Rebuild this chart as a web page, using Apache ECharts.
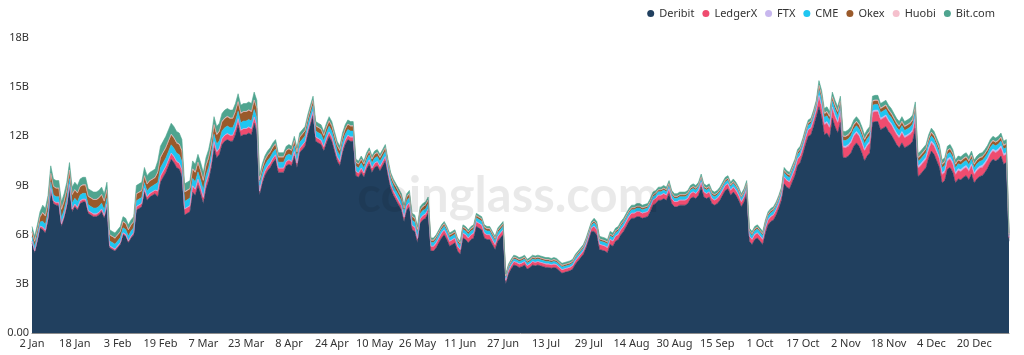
<!DOCTYPE html>
<html>
<head>
<meta charset="utf-8">
<script src="https://cdn.jsdelivr.net/npm/echarts@6/dist/echarts.min.js"></script>
<style>
html,body{margin:0;padding:0;background:#fff;}
#chart{width:1024px;height:355px;}
</style>
</head>
<body>
<div id="chart"></div>
<script>
// Daily open interest (billions USD), 2 Jan 2021 .. 2 Jan 2022 (366 days)
const startDate = [2021, 0, 2];
const monthNames = ['Jan','Feb','Mar','Apr','May','Jun','Jul','Aug','Sep','Oct','Nov','Dec'];
const seriesNames = ['Deribit','LedgerX','FTX','CME','Okex','Huobi','Bit.com'];
const yTicks = [0, 3, 6, 9, 12, 15, 18];

const deribit = [
5.5,4.9,5.6,6.4,6.3,6.1,6.9,8.7,7.9,7.8,
7.8,6.5,7.0,7.7,8.9,7.4,7.7,7.5,7.9,8.0,
8.0,7.3,7.2,7.1,7.1,7.2,7.4,7.0,7.7,5.2,
5.1,5.0,5.2,5.4,6.0,5.9,5.5,5.8,6.0,7.5,
7.6,7.7,8.6,8.1,8.3,8.4,8.5,8.3,9.2,9.5,
9.8,10.2,10.6,10.4,10.1,10.0,9.6,7.2,7.3,7.4,
8.6,8.4,9.0,8.5,7.9,8.8,9.3,10.1,11.3,10.7,
10.9,11.5,11.7,11.8,11.7,11.7,12.1,12.7,12.0,12.1,
12.1,12.2,12.1,12.8,12.3,8.4,9.1,9.6,9.9,10.1,
10.4,10.6,9.8,9.8,9.8,10.2,10.3,10.2,10.8,10.1,
11.0,11.2,11.4,12.1,12.7,13.25,11.7,11.6,11.5,11.1,
11.6,12.0,11.7,11.1,10.5,10.2,11.0,11.5,11.8,11.7,
11.7,9.6,9.5,9.8,9.5,10.0,10.3,9.8,10.1,10.2,
9.9,10.2,10.5,9.6,8.8,8.4,8.1,7.8,7.5,6.8,
7.5,7.7,6.3,6.2,5.5,6.7,6.9,7.0,7.3,5.0,
5.0,5.2,5.5,5.8,6.0,5.7,5.3,5.4,5.5,5.0,
4.8,5.8,5.7,5.5,5.7,5.8,6.5,6.4,6.3,5.8,
5.7,5.7,5.4,5.1,5.6,5.8,6.0,3.0,3.6,3.9,
4.15,4.1,4.0,4.05,4.15,3.9,4.0,4.15,4.1,4.15,
4.1,4.05,4.0,4.0,3.95,4.0,3.95,3.8,3.65,3.7,
3.75,3.8,3.9,4.2,4.4,4.6,4.8,5.2,5.7,6.2,
6.2,6.0,5.1,5.05,5.0,4.9,5.4,5.3,5.6,5.7,
6.0,6.2,6.5,6.8,7.0,7.0,7.1,7.1,7.0,7.05,
7.1,7.4,7.8,7.9,8.1,8.1,8.2,8.1,8.5,7.9,
7.7,7.7,7.8,7.8,7.8,7.9,8.2,8.3,8.2,8.4,
8.9,8.3,8.2,8.3,7.9,7.8,7.9,8.1,8.4,8.7,
8.8,8.4,8.6,8.4,8.1,7.7,8.0,8.5,5.6,5.4,
5.7,5.8,5.6,5.4,6.1,6.6,6.8,6.9,7.2,7.6,
8.1,9.1,8.9,8.8,9.2,9.6,10.2,10.4,10.9,11.5,
12.0,12.1,12.6,13.2,13.8,13.2,12.1,12.2,11.9,13.1,
12.6,12.2,12.85,10.7,10.7,10.8,11.0,11.4,11.6,11.4,
11.0,10.5,10.8,11.0,12.85,12.9,12.9,12.4,12.5,12.6,
12.3,12.1,11.8,11.5,11.3,11.6,11.3,11.4,11.5,11.7,
12.5,9.55,9.7,9.9,10.1,10.7,11.1,10.9,10.5,10.1,
9.15,9.3,10.0,10.1,9.8,9.15,9.4,9.35,9.5,9.6,
9.35,9.7,9.15,9.4,9.55,9.6,9.8,10.05,10.4,10.6,
10.5,10.6,10.8,10.3,10.4,5.6
];

const ledgerx = [
.1,.1,.1,.1,.15,.15,.15,.15,.15,.15,
.15,.15,.15,.15,.15,.15,.15,.15,.15,.15,
.15,.15,.15,.15,.15,.15,.15,.15,.15,.1,
.1,.1,.1,.1,.1,.1,.1,.1,.1,.2,
.2,.2,.2,.2,.2,.2,.2,.35,.35,.35,
.35,.35,.35,.35,.35,.35,.35,.35,.35,.35,
.35,.35,.35,.35,.35,.35,.35,.35,.35,.35,
.35,.35,.35,.35,.35,.35,.35,.35,.35,.35,
.35,.35,.35,.35,.35,.25,.25,.25,.25,.25,
.25,.25,.25,.25,.25,.25,.25,.25,.25,.25,
.25,.25,.25,.25,.25,.25,.25,.25,.25,.25,
.25,.25,.25,.25,.25,.25,.25,.25,.25,.25,
.25,.25,.25,.25,.25,.25,.25,.25,.25,.25,
.25,.25,.25,.25,.25,.25,.25,.25,.25,.25,
.25,.25,.25,.25,.25,.25,.25,.25,.25,.28,
.28,.28,.28,.28,.28,.28,.28,.28,.28,.28,
.28,.28,.28,.28,.28,.28,.28,.28,.28,.28,
.28,.28,.28,.28,.28,.28,.28,.2,.2,.2,
.2,.2,.2,.2,.2,.2,.2,.2,.2,.2,
.2,.2,.2,.2,.2,.2,.2,.2,.2,.2,
.2,.2,.2,.2,.2,.2,.2,.2,.2,.2,
.3,.3,.3,.3,.3,.3,.3,.3,.3,.3,
.3,.3,.3,.3,.3,.3,.3,.3,.3,.3,
.3,.3,.3,.3,.3,.3,.3,.3,.3,.3,
.3,.3,.3,.3,.3,.3,.3,.3,.3,.3,
.3,.3,.3,.3,.3,.3,.3,.3,.3,.3,
.3,.3,.3,.3,.3,.3,.3,.3,.3,.3,
.3,.3,.3,.3,.3,.3,.3,.3,.3,.3,
.3,.4,.4,.4,.4,.4,.4,.4,.4,.4,
.4,.4,.4,.4,.6,.6,.6,.6,.6,.6,
.6,.6,.6,.6,.6,.6,.6,.6,.6,.6,
.6,.6,.6,.6,.6,.6,.6,.6,.6,.6,
.6,.6,.6,.6,.6,.6,.6,.6,.6,.6,
.6,.5,.5,.5,.5,.5,.5,.5,.5,.5,
.5,.5,.5,.5,.5,.5,.5,.5,.5,.5,
.5,.5,.5,.5,.5,.5,.5,.5,.5,.5,
.5,.5,.5,.5,.5,.2
];

const ftx = [
.02,.02,.02,.02,.02,.02,.02,.02,.02,.02,
.02,.02,.02,.02,.02,.02,.02,.02,.02,.02,
.02,.02,.02,.02,.02,.02,.02,.02,.02,.02,
.02,.02,.02,.02,.02,.02,.02,.02,.02,.02,
.02,.02,.02,.02,.02,.02,.02,.03,.03,.03,
.03,.03,.03,.03,.03,.03,.03,.03,.03,.03,
.03,.03,.03,.03,.03,.03,.03,.03,.03,.03,
.03,.03,.03,.03,.03,.03,.03,.03,.03,.03,
.03,.03,.03,.03,.03,.02,.02,.02,.02,.02,
.02,.02,.02,.02,.02,.02,.02,.02,.02,.02,
.02,.02,.02,.02,.02,.02,.02,.02,.02,.02,
.02,.02,.02,.02,.02,.02,.02,.02,.02,.02,
.02,.02,.02,.02,.02,.02,.02,.02,.02,.02,
.02,.02,.02,.02,.02,.02,.02,.02,.02,.02,
.02,.02,.02,.02,.02,.02,.02,.02,.02,.02,
.02,.02,.02,.02,.02,.02,.02,.02,.02,.02,
.02,.02,.02,.02,.02,.02,.02,.02,.02,.02,
.02,.02,.02,.02,.02,.02,.02,.02,.02,.02,
.02,.02,.02,.02,.02,.02,.02,.02,.02,.02,
.02,.02,.02,.02,.02,.02,.02,.02,.02,.02,
.02,.02,.02,.02,.02,.02,.02,.02,.02,.02,
.02,.02,.02,.02,.02,.02,.02,.02,.02,.02,
.02,.02,.02,.02,.02,.02,.02,.02,.02,.02,
.02,.02,.02,.02,.02,.02,.02,.02,.02,.02,
.02,.02,.02,.02,.02,.02,.02,.02,.02,.02,
.02,.02,.02,.02,.02,.02,.02,.02,.02,.02,
.02,.02,.02,.02,.02,.02,.02,.02,.02,.02,
.02,.02,.02,.02,.02,.02,.02,.02,.02,.02,
.02,.03,.03,.03,.03,.03,.03,.03,.03,.03,
.03,.03,.03,.03,.1,.1,.1,.1,.1,.1,
.1,.1,.1,.1,.1,.1,.1,.1,.1,.1,
.1,.1,.1,.1,.1,.1,.1,.1,.1,.1,
.1,.1,.1,.1,.1,.1,.1,.1,.1,.1,
.1,.12,.12,.12,.12,.12,.12,.12,.12,.12,
.12,.12,.12,.12,.12,.12,.12,.12,.12,.12,
.12,.12,.12,.12,.12,.12,.12,.12,.12,.12,
.12,.12,.12,.12,.12,.05
];

const cme = [
.25,.25,.25,.25,.35,.35,.35,.35,.35,.35,
.35,.35,.35,.35,.35,.35,.35,.35,.35,.35,
.35,.35,.35,.35,.35,.35,.35,.35,.35,.3,
.3,.3,.3,.3,.3,.3,.3,.3,.3,.35,
.35,.35,.35,.35,.35,.35,.35,.5,.5,.5,
.5,.5,.5,.5,.5,.5,.5,.45,.45,.45,
.45,.45,.45,.45,.45,.45,.45,.45,.45,.45,
.45,.45,.45,.45,.45,.45,.45,.45,.45,.45,
.45,.45,.45,.45,.45,.35,.35,.35,.35,.35,
.35,.35,.35,.35,.35,.35,.35,.35,.35,.35,
.35,.35,.35,.35,.35,.35,.35,.35,.35,.35,
.35,.35,.35,.35,.35,.35,.35,.35,.35,.35,
.35,.3,.3,.3,.3,.3,.3,.3,.3,.3,
.3,.3,.3,.3,.3,.3,.3,.3,.3,.3,
.3,.3,.3,.3,.3,.3,.3,.3,.3,.22,
.22,.22,.22,.22,.22,.22,.22,.22,.22,.22,
.22,.22,.22,.22,.22,.22,.22,.22,.22,.22,
.22,.22,.22,.22,.22,.22,.22,.15,.15,.15,
.15,.15,.15,.15,.15,.15,.15,.15,.15,.15,
.15,.15,.15,.15,.15,.15,.15,.15,.15,.15,
.15,.15,.15,.15,.15,.15,.15,.15,.15,.15,
.2,.2,.2,.2,.2,.2,.2,.2,.2,.2,
.2,.2,.2,.2,.2,.2,.2,.2,.2,.2,
.2,.2,.2,.2,.2,.2,.2,.2,.2,.2,
.2,.2,.2,.2,.2,.2,.2,.2,.2,.2,
.2,.2,.2,.2,.2,.2,.2,.2,.2,.2,
.2,.2,.2,.2,.2,.2,.2,.2,.22,.22,
.22,.22,.22,.22,.22,.22,.22,.22,.22,.22,
.22,.25,.25,.25,.25,.25,.25,.25,.25,.25,
.25,.25,.25,.25,.35,.35,.35,.35,.35,.35,
.35,.35,.35,.35,.35,.35,.35,.35,.35,.35,
.35,.35,.35,.35,.35,.35,.35,.35,.35,.35,
.35,.35,.35,.35,.35,.35,.35,.35,.35,.35,
.35,.3,.3,.3,.3,.3,.3,.3,.3,.3,
.3,.3,.3,.3,.3,.3,.3,.3,.3,.3,
.3,.3,.3,.3,.3,.3,.3,.3,.3,.3,
.3,.3,.3,.3,.3,.1
];

const okex = [
.3,.3,.3,.3,.5,.5,.5,.5,.5,.5,
.5,.5,.5,.5,.5,.5,.5,.5,.5,.5,
.5,.5,.5,.5,.5,.5,.5,.5,.5,.35,
.35,.35,.35,.35,.35,.35,.35,.35,.35,.4,
.4,.4,.4,.4,.4,.4,.4,.6,.6,.6,
.6,.6,.6,.6,.6,.6,.6,.55,.55,.55,
.55,.55,.55,.55,.55,.55,.55,.55,.55,.55,
.55,.55,.55,.55,.55,.55,.55,.55,.55,.55,
.55,.55,.55,.55,.55,.3,.3,.3,.3,.3,
.3,.3,.3,.3,.3,.3,.3,.3,.3,.3,
.3,.3,.3,.3,.3,.3,.3,.3,.3,.3,
.3,.3,.3,.3,.3,.3,.3,.3,.3,.3,
.3,.22,.22,.22,.22,.22,.22,.22,.22,.22,
.22,.22,.22,.22,.22,.22,.22,.22,.22,.22,
.22,.22,.22,.22,.22,.22,.22,.22,.22,.13,
.13,.13,.13,.13,.13,.13,.13,.13,.13,.13,
.13,.13,.13,.13,.13,.13,.13,.13,.13,.13,
.13,.13,.13,.13,.13,.13,.13,.09,.09,.09,
.09,.09,.09,.09,.09,.09,.09,.09,.09,.09,
.09,.09,.09,.09,.09,.09,.09,.09,.09,.09,
.09,.09,.09,.09,.09,.09,.09,.09,.09,.09,
.1,.1,.1,.1,.1,.1,.1,.1,.1,.1,
.1,.1,.1,.1,.1,.1,.1,.1,.1,.1,
.1,.1,.1,.1,.1,.1,.1,.1,.1,.1,
.1,.1,.1,.1,.1,.1,.1,.1,.1,.1,
.1,.1,.1,.1,.1,.1,.1,.1,.1,.1,
.1,.1,.1,.1,.1,.1,.1,.1,.1,.1,
.1,.1,.1,.1,.1,.1,.1,.1,.1,.1,
.1,.13,.13,.13,.13,.13,.13,.13,.13,.13,
.13,.13,.13,.13,.22,.22,.22,.22,.22,.22,
.22,.22,.22,.22,.22,.22,.22,.22,.22,.22,
.22,.22,.22,.22,.22,.22,.22,.22,.22,.22,
.22,.22,.22,.22,.22,.22,.22,.22,.22,.22,
.22,.2,.2,.2,.2,.2,.2,.2,.2,.2,
.2,.2,.2,.2,.2,.2,.2,.2,.2,.2,
.2,.2,.2,.2,.2,.2,.2,.2,.2,.2,
.2,.2,.2,.2,.2,.05
];

const huobi = [
.03,.03,.03,.03,.03,.03,.03,.03,.03,.03,
.03,.03,.03,.03,.03,.03,.03,.03,.03,.03,
.03,.03,.03,.03,.03,.03,.03,.03,.03,.03,
.03,.03,.03,.03,.03,.03,.03,.03,.03,.03,
.03,.03,.03,.03,.03,.03,.03,.05,.05,.05,
.05,.05,.05,.05,.05,.05,.05,.04,.04,.04,
.04,.04,.04,.04,.04,.04,.04,.04,.04,.04,
.04,.04,.04,.04,.04,.04,.04,.04,.04,.04,
.04,.04,.04,.04,.04,.03,.03,.03,.03,.03,
.03,.03,.03,.03,.03,.03,.03,.03,.03,.03,
.03,.03,.03,.03,.03,.03,.03,.03,.03,.03,
.03,.03,.03,.03,.03,.03,.03,.03,.03,.03,
.03,.03,.03,.03,.03,.03,.03,.03,.03,.03,
.03,.03,.03,.03,.03,.03,.03,.03,.03,.03,
.03,.03,.03,.03,.03,.03,.03,.03,.03,.02,
.02,.02,.02,.02,.02,.02,.02,.02,.02,.02,
.02,.02,.02,.02,.02,.02,.02,.02,.02,.02,
.02,.02,.02,.02,.02,.02,.02,.02,.02,.02,
.02,.02,.02,.02,.02,.02,.02,.02,.02,.02,
.02,.02,.02,.02,.02,.02,.02,.02,.02,.02,
.02,.02,.02,.02,.02,.02,.02,.02,.02,.02,
.02,.02,.02,.02,.02,.02,.02,.02,.02,.02,
.02,.02,.02,.02,.02,.02,.02,.02,.02,.02,
.02,.02,.02,.02,.02,.02,.02,.02,.02,.02,
.02,.02,.02,.02,.02,.02,.02,.02,.02,.02,
.02,.02,.02,.02,.02,.02,.02,.02,.02,.02,
.02,.02,.02,.02,.02,.02,.02,.02,.02,.02,
.02,.02,.02,.02,.02,.02,.02,.02,.02,.02,
.02,.02,.02,.02,.02,.02,.02,.02,.02,.02,
.02,.02,.02,.02,.05,.05,.05,.05,.05,.05,
.05,.05,.05,.05,.05,.05,.05,.05,.05,.05,
.05,.05,.05,.05,.05,.05,.05,.05,.05,.05,
.05,.05,.05,.05,.05,.05,.05,.05,.05,.05,
.05,.04,.04,.04,.04,.04,.04,.04,.04,.04,
.04,.04,.04,.04,.04,.04,.04,.04,.04,.04,
.04,.04,.04,.04,.04,.04,.04,.04,.04,.04,
.04,.04,.04,.04,.04,.02
];

const bitcom = [
.3,.3,.3,.3,.45,.45,.45,.45,.45,.45,
.45,.45,.45,.45,.45,.45,.45,.45,.45,.45,
.45,.45,.45,.45,.45,.45,.45,.45,.45,.3,
.3,.3,.3,.3,.3,.3,.3,.3,.3,.5,
.5,.5,.5,.5,.5,.5,.5,.67,.67,.67,
.67,.67,.67,.67,.67,.67,.67,.48,.48,.48,
.48,.48,.48,.48,.48,.48,.48,.48,.48,.48,
.48,.48,.48,.48,.48,.48,.48,.48,.48,.48,
.48,.48,.48,.48,.48,.25,.25,.25,.25,.25,
.25,.25,.25,.25,.25,.25,.25,.25,.25,.25,
.25,.25,.25,.25,.25,.25,.25,.25,.25,.25,
.25,.25,.25,.25,.25,.25,.25,.25,.25,.25,
.25,.18,.18,.18,.18,.18,.18,.18,.18,.18,
.18,.18,.18,.18,.18,.18,.18,.18,.18,.18,
.18,.18,.18,.18,.18,.18,.18,.18,.18,.13,
.13,.13,.13,.13,.13,.13,.13,.13,.13,.13,
.13,.13,.13,.13,.13,.13,.13,.13,.13,.13,
.13,.13,.13,.13,.13,.13,.13,.12,.12,.12,
.12,.12,.12,.12,.12,.12,.12,.12,.12,.12,
.12,.12,.12,.12,.12,.12,.12,.12,.12,.12,
.12,.12,.12,.12,.12,.12,.12,.12,.12,.12,
.16,.16,.16,.16,.16,.16,.16,.16,.16,.16,
.16,.16,.16,.16,.16,.16,.16,.16,.16,.16,
.16,.16,.16,.16,.16,.16,.16,.16,.16,.16,
.16,.16,.16,.16,.16,.16,.16,.16,.16,.16,
.16,.16,.16,.16,.16,.16,.16,.16,.16,.16,
.16,.16,.16,.16,.16,.16,.16,.16,.14,.14,
.14,.14,.14,.14,.14,.14,.14,.14,.14,.14,
.14,.17,.17,.17,.17,.17,.17,.17,.17,.17,
.17,.17,.17,.17,.28,.28,.28,.28,.28,.28,
.28,.28,.28,.28,.28,.28,.28,.28,.28,.28,
.28,.28,.28,.28,.28,.28,.28,.28,.28,.28,
.28,.28,.28,.28,.28,.28,.28,.28,.28,.28,
.28,.24,.24,.24,.24,.24,.24,.24,.24,.24,
.24,.24,.24,.24,.24,.24,.24,.24,.24,.24,
.24,.24,.24,.24,.24,.24,.24,.24,.24,.24,
.24,.24,.24,.24,.24,.08
];

const seriesData = [deribit, ledgerx, ftx, cme, okex, huobi, bitcom];
const colors = ['#21405f','#ef4c6f','#c8b7ee','#1fc6f1','#9a5a2b','#f5c0cd','#4fa48f'];

// category labels: one per day
const categories = [];
for (let i = 0; i < deribit.length; i++) {
  const d = new Date(startDate[0], startDate[1], startDate[2] + i);
  categories.push(d.getDate() + ' ' + monthNames[d.getMonth()]);
}

const chart = echarts.init(document.getElementById('chart'), null, {renderer: 'canvas'});
const FONT = 'Noto Sans';

chart.setOption({
  animation: false,
  color: colors,
  textStyle: {fontFamily: FONT},
  legend: {
    data: seriesNames,
    top: 3,
    right: 24,
    icon: 'circle',
    itemWidth: 7,
    itemHeight: 7,
    itemGap: 8,
    textStyle: {fontSize: 11, color: '#333', fontFamily: FONT}
  },
  grid: {left: 32, right: 15, top: 38, bottom: 22, containLabel: false},
  graphic: [{
    type: 'text',
    z: 100,
    x: 508,
    y: 196,
    silent: true,
    style: {
      text: 'coinglass.com',
      fill: 'rgba(0,0,0,0.085)',
      font: 'bold 49px Lato',
      textAlign: 'center',
      textVerticalAlign: 'middle'
    }
  }],
  xAxis: {
    type: 'category',
    data: categories,
    boundaryGap: false,
    axisTick: {show: false},
    axisLine: {show: true, lineStyle: {color: '#8c8c8c'}},
    axisLabel: {interval: 15, fontSize: 11, color: '#333', margin: 5, fontFamily: FONT},
    splitLine: {show: false}
  },
  yAxis: {
    type: 'value',
    min: yTicks[0],
    max: yTicks[yTicks.length - 1],
    interval: 3,
    axisLine: {show: false},
    axisTick: {show: false},
    splitLine: {show: false},
    axisLabel: {
      fontSize: 11, color: '#333', margin: 3, fontFamily: FONT,
      formatter: v => v === 0 ? '0.00' : v + 'B'
    }
  },
  series: seriesNames.map((name, i) => ({
    name: name,
    type: 'line',
    stack: 'total',
    data: seriesData[i],
    showSymbol: false,
    symbol: 'none',
    smooth: false,
    lineStyle: {width: 0.6, color: colors[i]},
    areaStyle: {color: colors[i], opacity: 1},
    itemStyle: {color: colors[i]}
  }))
});
</script>
</body>
</html>
